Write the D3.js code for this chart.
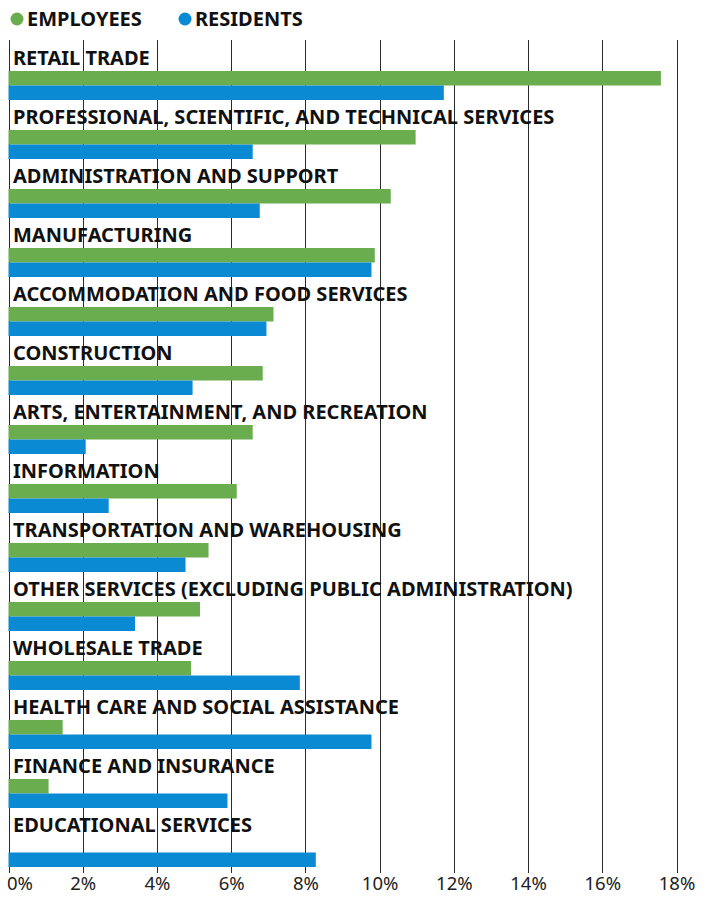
<!DOCTYPE html>
<html>
<head>
<meta charset="utf-8">
<script src="https://cdn.jsdelivr.net/npm/d3@7"></script>
<style>
  body { margin: 0; background: #fff; }
  text { font-family: "Noto Sans", "Open Sans", sans-serif; }
  .catLabel { font-weight: 700; font-size: 20px; fill: #111; }
  .tick text { font-size: 18.5px; fill: #222; }
</style>
</head>
<body>
<div id="chart"></div>
<script>
// categories, top to bottom
let categories = [
    "RETAIL TRADE",
    "PROFESSIONAL, SCIENTIFIC, AND TECHNICAL SERVICES",
    "ADMINISTRATION AND SUPPORT",
    "MANUFACTURING",
    "ACCOMMODATION AND FOOD SERVICES",
    "CONSTRUCTION",
    "ARTS, ENTERTAINMENT, AND RECREATION",
    "INFORMATION",
    "TRANSPORTATION AND WAREHOUSING",
    "OTHER SERVICES (EXCLUDING PUBLIC ADMINISTRATION)",
    "WHOLESALE TRADE",
    "HEALTH CARE AND SOCIAL ASSISTANCE",
    "FINANCE AND INSURANCE",
    "EDUCATIONAL SERVICES"
];
// share of jobs (%)
let employees = [17.58, 10.97, 10.3, 9.87, 7.14, 6.85, 6.58, 6.15, 5.39, 5.16, 4.92, 1.46, 1.08, 0];
let residents = [11.73, 6.58, 6.77, 9.78, 6.95, 4.96, 2.08, 2.7, 4.77, 3.41, 7.85, 9.78, 5.9, 8.28];
let xTicks = [0, 2, 4, 6, 8, 10, 12, 14, 16, 18];

let seriesNames = ["EMPLOYEES", "RESIDENTS"];
let colors = { "EMPLOYEES": "#6aad4e", "RESIDENTS": "#0a8ad2" };

let svgWidth = 715;
let svgHeight = 901;

let svg = d3.select("#chart")
    .append("svg")
    .attr("width", svgWidth)
    .attr("height", svgHeight);

// scales
let x = d3.scaleLinear().domain([0, 18]).range([8.5, 676.5]);
let y = d3.scaleBand().domain(categories).range([42, 868]);
let ySub = d3.scaleBand().domain(seriesNames).range([29, 58]);

let rows = categories.map((c, i) => ({
    cat: c,
    values: [
        { key: "EMPLOYEES", v: employees[i] },
        { key: "RESIDENTS", v: residents[i] }
    ]
}));

// grid lines
svg.append("g")
    .selectAll("line")
    .data(xTicks)
    .enter()
    .append("line")
    .attr("x1", d => Math.round(x(d)) + 0.5)
    .attr("x2", d => Math.round(x(d)) + 0.5)
    .attr("y1", 40)
    .attr("y2", 873)
    .attr("stroke", "#2a2a2a")
    .attr("stroke-width", 1);

// bars
let groups = svg.append("g")
    .selectAll("g")
    .data(rows)
    .enter()
    .append("g")
    .attr("transform", d => `translate(0, ${y(d.cat)})`);

groups.selectAll("rect")
    .data(d => d.values)
    .enter()
    .append("rect")
    .attr("x", x(0))
    .attr("y", d => ySub(d.key))
    .attr("width", d => x(d.v) - x(0))
    .attr("height", ySub.bandwidth())
    .attr("fill", d => colors[d.key]);

// category labels
groups.append("text")
    .attr("class", "catLabel")
    .attr("x", 13)
    .attr("y", 22.5)
    .text(d => d.cat);

// x axis
let xAxis = d3.axisBottom(x)
    .tickValues(xTicks)
    .tickSize(0)
    .tickPadding(0)
    .tickFormat(d => d + "%");

let axisG = svg.append("g")
    .attr("transform", "translate(0, 877)")
    .call(xAxis);
axisG.select(".domain").remove();
axisG.selectAll(".tick text")
    .attr("dy", "0.71em")
    .attr("text-anchor", d => d === 0 ? "start" : "middle")
    .attr("dx", d => d === 0 ? -2 : 0);

// legend
let legendX = [17, 185];
let legend = svg.append("g")
    .selectAll("g")
    .data(seriesNames)
    .enter()
    .append("g")
    .attr("transform", (d, i) => `translate(${legendX[i]}, 19)`);

legend.append("circle")
    .attr("r", 6.5)
    .attr("fill", d => colors[d]);

legend.append("text")
    .attr("x", 10)
    .attr("y", 7)
    .attr("class", "catLabel")
    .text(d => d);
</script>
</body>
</html>
